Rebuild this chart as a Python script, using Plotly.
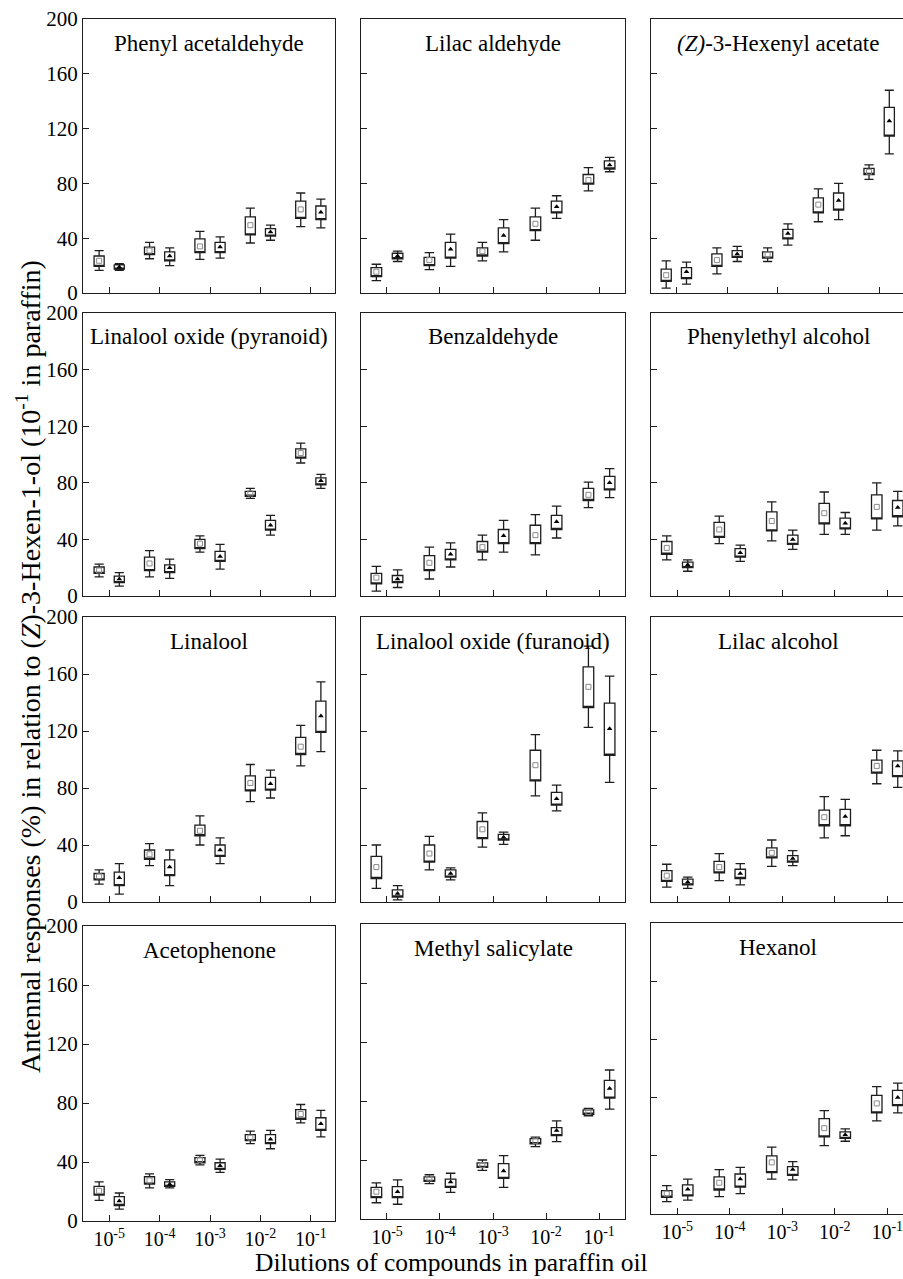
import plotly.graph_objects as go

# ---------------- data ----------------
compounds = [
    "Phenyl acetaldehyde", "Lilac aldehyde", "<i>(Z)</i>-3-Hexenyl acetate",
    "Linalool oxide (pyranoid)", "Benzaldehyde", "Phenylethyl alcohol",
    "Linalool", "Linalool oxide (furanoid)", "Lilac alcohol",
    "Acetophenone", "Methyl salicylate", "Hexanol",
]
dilutions = ["10<sup>-5</sup>", "10<sup>-4</sup>", "10<sup>-3</sup>", "10<sup>-2</sup>", "10<sup>-1</sup>"]
dilution_pos = [1, 2, 3, 4, 5]
y_ticks = [0, 40, 80, 120, 160, 200]

# series 1 (open square marker)
sq_whisker_hi = [
    [31, 37, 45, 62, 73], [21, 29.5, 37, 62, 91.5], [23.5, 33, 33, 76, 93.5],
    [22.5, 32, 42.5, 76, 108], [21, 34.5, 43, 57.5, 80.5], [42.5, 56.5, 66.5, 73.5, 80],
    [22.5, 41, 60.5, 96.5, 124], [40, 46, 62.5, 117.5, 179.5], [26.5, 34, 43.5, 74, 106.5],
    [26.5, 32, 44.5, 61, 79], [24.5, 30, 40, 55.5, 75], [19.5, 30.5, 46, 71, 87.5],
]
sq_box_hi = [
    [27, 33.5, 39.5, 55.5, 67], [18.5, 26, 33, 55.5, 86.5], [17.5, 28.5, 30, 69.5, 91],
    [20.5, 27.5, 40, 74, 104], [16, 28.5, 38.5, 50, 76], [38.5, 52, 59.5, 65.5, 71.5],
    [20, 36.5, 54, 88.5, 115.5], [32, 40, 56.5, 106.5, 165], [22, 28.5, 38, 64.5, 99.5],
    [23.5, 30, 43, 58.5, 75.5], [21.5, 28.5, 38, 54.5, 74], [16, 25.5, 40, 65.5, 81.5],
]
sq_center = [
    [23.5, 31, 34, 49.5, 61], [15.5, 24, 30.5, 50.5, 82.5], [13, 24, 28, 64.5, 88.5],
    [18, 23, 37, 72.5, 101], [13, 23.5, 34.5, 43, 71.5], [34, 47, 53, 58.5, 63],
    [18, 33.5, 50, 83.5, 109], [24.5, 34, 51, 96, 151], [18.5, 24.5, 34.5, 59.5, 95.5],
    [20.5, 27.5, 41.5, 56.5, 72.5], [18.5, 27.5, 36.5, 53, 72.5], [14, 21.5, 35.5, 59, 76],
]
sq_box_lo = [
    [19.5, 28, 29.5, 42.5, 54.5], [12, 20, 27, 45.5, 79.5], [8.5, 19.5, 25.5, 58.5, 86.5],
    [16, 18, 33.5, 70.5, 97.5], [8.5, 18, 31, 37, 67.5], [29.5, 41.5, 46, 51, 54.5],
    [15.5, 30, 46.5, 78, 103.5], [16.5, 28, 44.5, 85, 136.5], [14.5, 20.5, 31, 53.5, 90.5],
    [17.5, 25, 39.5, 54.5, 69], [14.5, 25.5, 35, 51, 71], [11.5, 16.5, 28.5, 53, 69.5],
]
sq_whisker_lo = [
    [16.5, 25, 24.5, 36.5, 48.5], [9, 17, 23.5, 38.5, 74.5], [3.5, 14, 23, 52, 83],
    [13.5, 13.5, 31, 69, 94], [3.5, 12, 25.5, 29, 62.5], [25.5, 37, 39, 43.5, 46.5],
    [12.5, 25.5, 40, 70.5, 95.5], [9.5, 22.5, 38.5, 74.5, 122.5], [10.5, 15, 25, 45, 83],
    [14, 22.5, 38, 52.5, 66.5], [11, 24, 33, 49, 70], [8.5, 12, 24, 47, 64],
]

# series 2 (filled triangle marker)
tri_whisker_hi = [
    [21.5, 33, 41, 49.5, 68.5], [30.5, 43, 53.5, 71, 99], [22.5, 34, 50.5, 80, 148],
    [16.5, 26, 36.5, 57, 86], [18.5, 37.5, 53.5, 63.5, 90], [25.5, 36, 46.5, 59, 74],
    [27, 36.5, 45, 92.5, 154.5], [11.5, 24, 49, 82, 158.5], [17.5, 27, 36, 72, 106],
    [19, 28, 42, 61.5, 75], [26.5, 31, 43, 66.5, 101], [24, 32, 36, 58.5, 90],
]
tri_box_hi = [
    [20.5, 30, 37, 47, 63.5], [29, 37, 47.5, 67, 96.5], [18.5, 31, 46.5, 73, 135.5],
    [14, 22, 31.5, 53.5, 83.5], [14.5, 33, 47, 57, 84.5], [24, 33.5, 43, 55, 67.5],
    [21, 29.5, 40, 87.5, 141], [8.5, 22.5, 47.5, 77, 139.5], [16, 23, 32.5, 65, 99],
    [16.5, 26.5, 39.5, 58.5, 70], [22, 27, 37.5, 62, 94], [20, 27.5, 32.5, 56.5, 85],
]
tri_center = [
    [19, 27, 33.5, 44.5, 59], [27, 32, 42, 63, 93.5], [15.5, 28.5, 43.5, 67.5, 125.5],
    [12, 20, 28, 50, 81.5], [12, 29.5, 42.5, 52.5, 80], [22, 30.5, 40, 51.5, 62.5],
    [17, 24.5, 36.5, 83, 130.5], [6, 20, 45.5, 72.5, 121.5], [14, 20, 30.5, 60, 95.5],
    [13.5, 25, 37.5, 55.5, 66], [18.5, 25, 32.5, 60, 88.5], [17, 24, 30.5, 54.5, 80],
]
tri_box_lo = [
    [17.5, 23.5, 29.5, 41.5, 53.5], [25, 25.5, 36, 58.5, 90.5], [10.5, 26, 39.5, 60.5, 114.5],
    [9.5, 16.5, 24.5, 46.5, 78.5], [9.5, 25.5, 37, 47, 75], [20, 27.5, 36.5, 47.5, 56],
    [11.5, 18.5, 32, 78.5, 119], [3.5, 17.5, 43.5, 68, 103], [12, 16.5, 28, 53.5, 88],
    [10.5, 23.5, 35, 52.5, 61.5], [14.5, 21.5, 27.5, 56.5, 82], [12.5, 18.5, 26.5, 52, 74.5],
]
tri_whisker_lo = [
    [16.5, 20, 25.5, 38.5, 47.5], [23, 19.5, 30, 54.5, 88.5], [6.5, 23, 35, 53.5, 101.5],
    [7, 12.5, 19, 43, 76], [6, 20.5, 31, 41, 69.5], [17.5, 24.5, 33, 43.5, 49.5],
    [5.5, 11.5, 27, 73, 105.5], [1.5, 15.5, 40.5, 64, 84], [9.5, 12, 25.5, 46.5, 80.5],
    [8, 22.5, 33, 49, 57], [10, 18, 21.5, 52.5, 74.5], [9.5, 14, 23.5, 50, 69.5],
]

# ---------------- layout geometry (pixels) ----------------
W, H = 903, 1279
FONT = "Liberation Serif, Times New Roman, serif"
LINE = "#1e1e1e"

col_px = [(83, 335), (361, 625), (651, 903)]
row_px = [(19, 293), (313, 596), (617, 902), (926, 1221)]
panel_override = {10: ((361, 625), (924, 1219)), 11: ((651, 903), (923, 1214))}
col_xrange = [(0.48, 5.48), (0.51, 5.49), (0.5, 5.30)]
title_cx = [209, 493, 778]

fig = go.Figure()
layout_axes = {}
annotations = []

series = [
    (sq_whisker_lo, sq_box_lo, sq_center, sq_box_hi, sq_whisker_hi, -0.2,
     dict(symbol="square-open", size=5, color="#8a8a8a", line=dict(width=1, color="#8a8a8a"))),
    (tri_whisker_lo, tri_box_lo, tri_center, tri_box_hi, tri_whisker_hi, 0.2,
     dict(symbol="triangle-up", size=5, color="black", line=dict(width=0))),
]

for i, name in enumerate(compounds):
    r, c = divmod(i, 3)
    (x0, x1), (y0, y1) = panel_override.get(i, (col_px[c], row_px[r]))
    n = "" if i == 0 else str(i + 1)
    xa, ya = "x" + n, "y" + n
    xr = col_xrange[c]
    if r == 0 and c == 2:
        xr = (0.5, 5.47)

    for wlo, blo, cen, bhi, whi, off, mk in series:
        xs = [p + off for p in dilution_pos]
        fig.add_trace(go.Box(
            x=xs, q1=blo[i], median=blo[i], q3=bhi[i],
            lowerfence=wlo[i], upperfence=whi[i],
            orientation="v", width=0.2, whiskerwidth=0.9,
            line=dict(color=LINE, width=1.3), fillcolor="rgba(0,0,0,0)",
            boxpoints=False, hoverinfo="skip", showlegend=False,
            xaxis=xa, yaxis=ya,
        ))
        fig.add_trace(go.Scatter(
            x=xs, y=cen[i], mode="markers", marker=mk,
            hoverinfo="skip", showlegend=False, xaxis=xa, yaxis=ya,
        ))

    layout_axes["xaxis" + n] = dict(
        domain=[x0 / W, x1 / W], range=list(xr), anchor=ya, automargin=False,
        tickmode="array", tickvals=dilution_pos, ticktext=dilutions,
        showticklabels=(r == 3), ticks="inside", ticklen=6, tickwidth=1.2,
        ticklabeloverflow="allow",
        tickcolor=LINE, showline=True, linecolor=LINE, linewidth=1.3,
        mirror=True, showgrid=False, zeroline=False,
        tickfont=dict(family=FONT, size=20, color="black"),
    )
    layout_axes["yaxis" + n] = dict(
        domain=[1 - y1 / H, 1 - y0 / H], range=[0, 200], anchor=xa, automargin=False,
        tickmode="array", tickvals=y_ticks,
        showticklabels=(c == 0), ticks="inside", ticklen=6, tickwidth=1.2,
        tickcolor=LINE, showline=True, linecolor=LINE, linewidth=1.3,
        mirror=(c != 2), showgrid=False, zeroline=False,
        tickfont=dict(family=FONT, size=21, color="black"),
    )
    annotations.append(dict(
        text=name, xref="paper", yref="paper",
        x=title_cx[c] / W, y=1 - (y0 + 24) / H,
        xanchor="center", yanchor="middle", showarrow=False,
        font=dict(family=FONT, size=23, color="black"),
    ))

annotations.append(dict(
    text="Antennal responses (%) in relation to (<i>Z</i>)-3-Hexen-1-ol (10<sup>-1</sup> in paraffin)",
    xref="paper", yref="paper", x=28 / W, y=1 - 667 / H,
    xanchor="center", yanchor="middle", textangle=-90, showarrow=False,
    font=dict(family=FONT, size=28, color="black"),
))
annotations.append(dict(
    text="Dilutions of compounds in paraffin oil",
    xref="paper", yref="paper", x=451 / W, y=1 - 1262 / H,
    xanchor="center", yanchor="middle", showarrow=False,
    font=dict(family=FONT, size=25.5, color="black"),
))

fig.update_layout(
    template="none",
    width=W, height=H, margin=dict(l=0, r=0, t=0, b=0, pad=0, autoexpand=False),
    paper_bgcolor="white", plot_bgcolor="white", showlegend=False,
    annotations=annotations, boxmode="overlay",
    **layout_axes,
)

fig.write_html(
    "out.html",
    config={"displayModeBar": False},
    post_script="document.body.style.margin='0';document.body.style.overflow='hidden';",
)
